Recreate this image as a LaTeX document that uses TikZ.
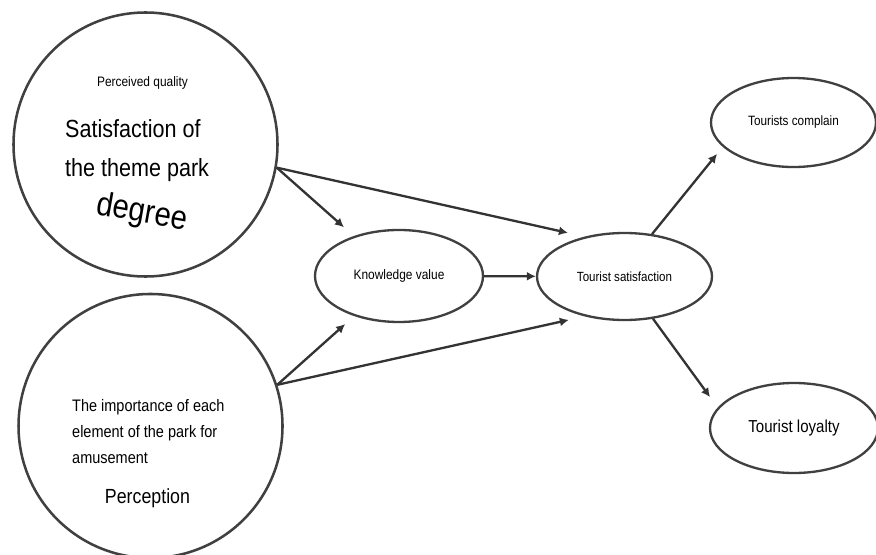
\documentclass[tikz,border=0pt]{standalone}
\usepackage{fontspec}
\newfontfamily\gothic{Liberation Sans}[FakeStretch=0.87]
\usetikzlibrary{arrows.meta,positioning,shapes.geometric}

\begin{document}
\begin{tikzpicture}[
    font=\gothic,
    latent/.style={draw=black!75,line width=2.4pt,circle,inner sep=0pt,minimum size=8.800cm},
    factor/.style={draw=black!75,line width=2.2pt,ellipse,inner sep=0pt},
    lab/.style={font=\gothic\fontsize{#1}{#1}\selectfont,inner sep=0pt},
    link/.style={draw=black!80,line width=2.2pt,-{Latex[length=3.0mm,width=3.0mm]}},
  ]
  \useasboundingbox (0,0) rectangle (29.200,18.467);
  % two big constructs on the left
  \node[latent] (quality) at (4.850,13.650) {};
  \node[latent] (percept) at (5.017,4.267) {};
  \node[lab=13,anchor=base] (qualtitle) at (4.750,15.567) {Perceived quality};
  \node[lab=23.5,anchor=base west] (qualmain) at (2.167,13.867) {Satisfaction of};
  \node[lab=23.5,anchor=base west] (qualpark) at (2.167,12.600) {the theme park};
  \node[lab=32,rotate=-10] (qualdeg) at (4.733,11.350) {degree};
  \node[lab=15.8,anchor=base west] (percone) at (2.400,4.743) {The importance of each};
  \node[lab=15.8,anchor=base west] (perctwo) at (2.400,3.890) {element of the park for};
  \node[lab=15.8,anchor=base west] (percthree) at (2.400,3.023) {amusement};
  \node[lab=19.4,anchor=base] (perctitle) at (4.917,1.667) {Perception};
  % mediators and outcomes
  \node[factor,minimum width=5.600cm,minimum height=3.067cm,font=\gothic\fontsize{13}{15}\selectfont]
    (know) at (13.300,9.267) {Knowledge value};
  \node[factor,minimum width=5.833cm,minimum height=2.900cm,font=\gothic\fontsize{12.6}{15}\selectfont]
    (sat) at (20.817,9.250) {Tourist satisfaction};
  \node[factor,minimum width=5.500cm,minimum height=2.967cm,font=\gothic\fontsize{12.8}{15}\selectfont]
    (compl) at (26.450,14.383) {Tourists complain};
  \node[factor,minimum width=5.600cm,minimum height=3.000cm,font=\gothic\fontsize{16.4}{18}\selectfont]
    (loyal) at (26.467,4.200) {Tourist loyalty};
  % paths
  \draw[link,shorten >=4.4mm] (quality.-10) -- (know);
  \draw[link,shorten >=5.7mm] (quality.-10) -- (sat.135);
  \draw[link,shorten >=4.0mm] (percept.18) -- (know);
  \draw[link,shorten >=5.4mm] (percept.18) -- (sat.225);
  \draw[link] (know) -- (sat);
  \draw[link,shorten >=3.0mm] (sat.57) -- (compl.199);
  \draw[link,shorten >=4.3mm] (sat.-56) -- (loyal.165);
\end{tikzpicture}
\end{document}
